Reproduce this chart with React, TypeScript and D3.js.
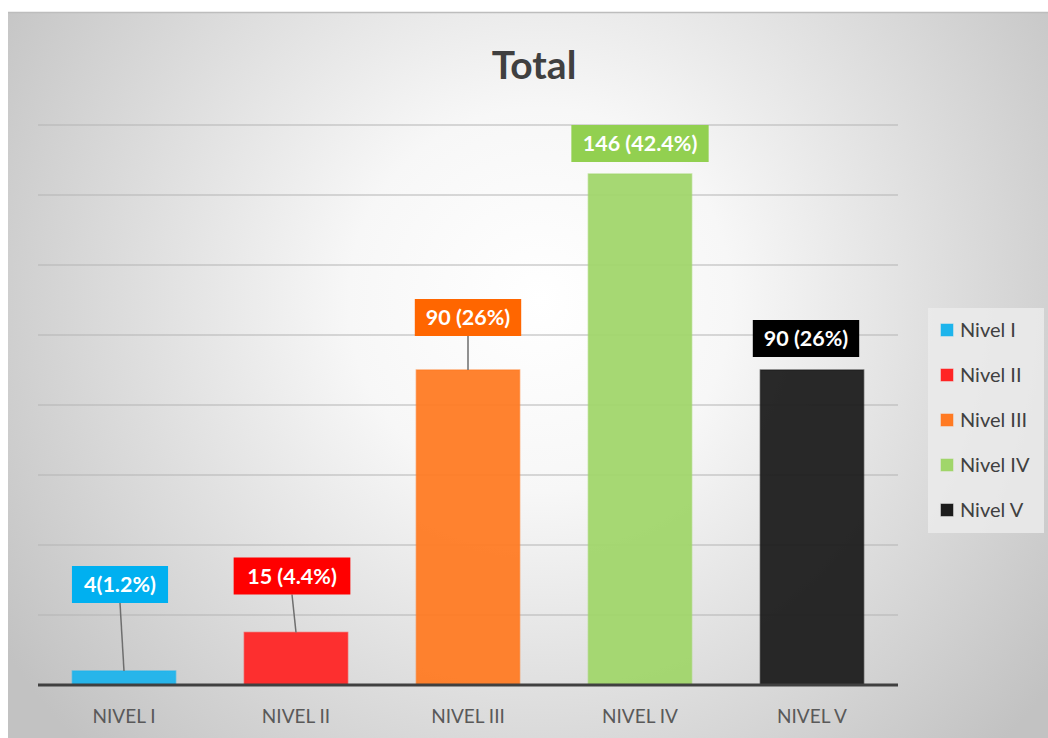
import React from "react";
import * as d3 from "d3";

const categories = ["NIVEL I", "NIVEL II", "NIVEL III", "NIVEL IV", "NIVEL V"];
const seriesNames = ["Nivel I", "Nivel II", "Nivel III", "Nivel IV", "Nivel V"];
const values = [4, 15, 90, 146, 90];
const labels = ["4(1.2%)", "15 (4.4%)", "90 (26%)", "146 (42.4%)", "90 (26%)"];
const yTicks = [0, 20, 40, 60, 80, 100, 120, 140, 160];
const barColors = ["#1db4ec", "#ff2424", "#ff7a22", "#a0d66a", "#1c1c1c"];
const boxColors = ["#00b0f0", "#ff0000", "#ff6600", "#92d050", "#000000"];
// label layout (pixels): horizontal shift of box center from bar center, gap between box bottom and bar top
const labelDx = [-4, -4, 0, 0, -6];
const labelGap = [68, 38, 34, 12, 13];
const showLeader = [true, true, true, false, false];

export default function App() {
  const W = 1048, H = 738;
  const x = d3.scaleBand<string>().domain(categories).range([38, 898]).paddingInner(0.4).paddingOuter(0.2);
  const y = d3.scaleLinear().domain([0, 160]).range([685, 125]);
  const font = "Lato, 'Open Sans', sans-serif";
  const boxH = 37;
  const boxW = (s: string) => s.length * 10.3 + 24;

  return (
    <svg width={W} height={H} style={{ position: "absolute", left: 0, top: 0 }} fontFamily={font}>
      <defs>
        <radialGradient id="bg" cx="540" cy="300" r="640" gradientUnits="userSpaceOnUse">
          <stop offset="0" stopColor="#ffffff" />
          <stop offset="0.3" stopColor="#f7f7f7" />
          <stop offset="1" stopColor="#c2c2c2" />
        </radialGradient>
      </defs>
      <rect x={0} y={0} width={W} height={H} fill="#ffffff" />
      <rect x={8} y={12} width={W - 8} height={H - 12} fill="url(#bg)" />
      <line x1={8} x2={W} y1={12.5} y2={12.5} stroke="#bdbdbd" strokeWidth={1.5} />
      <text x={534} y={79} textAnchor="middle" fontSize={39} fontWeight={700} fill="#404040">Total</text>

      {yTicks.slice(1).map((t) => (
        <line key={t} x1={38} x2={898} y1={y(t)} y2={y(t)} stroke="#b4b4b4" strokeWidth={1.2} />
      ))}

      {values.map((v, i) => {
        const bx = x(categories[i])!;
        return (
          <rect key={i} x={bx} y={y(v)} width={x.bandwidth()} height={y(0) - y(v)}
            fill={barColors[i]} fillOpacity={0.94} stroke={barColors[i]} strokeOpacity={0.6} strokeWidth={1.5} />
        );
      })}

      <line x1={38} x2={898} y1={685} y2={685} stroke="#404040" strokeWidth={3} />

      {values.map((v, i) => {
        const cx = x(categories[i])! + x.bandwidth() / 2;
        const bcx = cx + labelDx[i];
        const w = boxW(labels[i]);
        const top = y(v) - labelGap[i] - boxH;
        return (
          <g key={i}>
            {showLeader[i] && (
              <line x1={bcx} y1={top + boxH} x2={cx} y2={y(v)} stroke="#6e6e6e" strokeWidth={1.5} />
            )}
            <rect x={bcx - w / 2} y={top} width={w} height={boxH} fill={boxColors[i]} />
            <text x={bcx} y={top + boxH / 2 + 7.5} textAnchor="middle" fontSize={21.5} fontWeight={700} fill="#ffffff">{labels[i]}</text>
          </g>
        );
      })}

      {categories.map((c) => (
        <text key={c} x={x(c)! + x.bandwidth() / 2} y={723} textAnchor="middle" fontSize={19} fill="#595959">{c}</text>
      ))}

      <rect x={928} y={308} width={116} height={225} fill="#ebebeb" opacity={0.85} />
      {seriesNames.map((s, i) => {
        const ly = 330 + i * 45;
        return (
          <g key={s}>
            <rect x={941} y={ly - 6} width={12} height={12} fill={barColors[i]} stroke={barColors[i]} strokeOpacity={0.5} />
            <text x={960} y={ly + 7} fontSize={20} fill="#404040">{s}</text>
          </g>
        );
      })}
    </svg>
  );
}
